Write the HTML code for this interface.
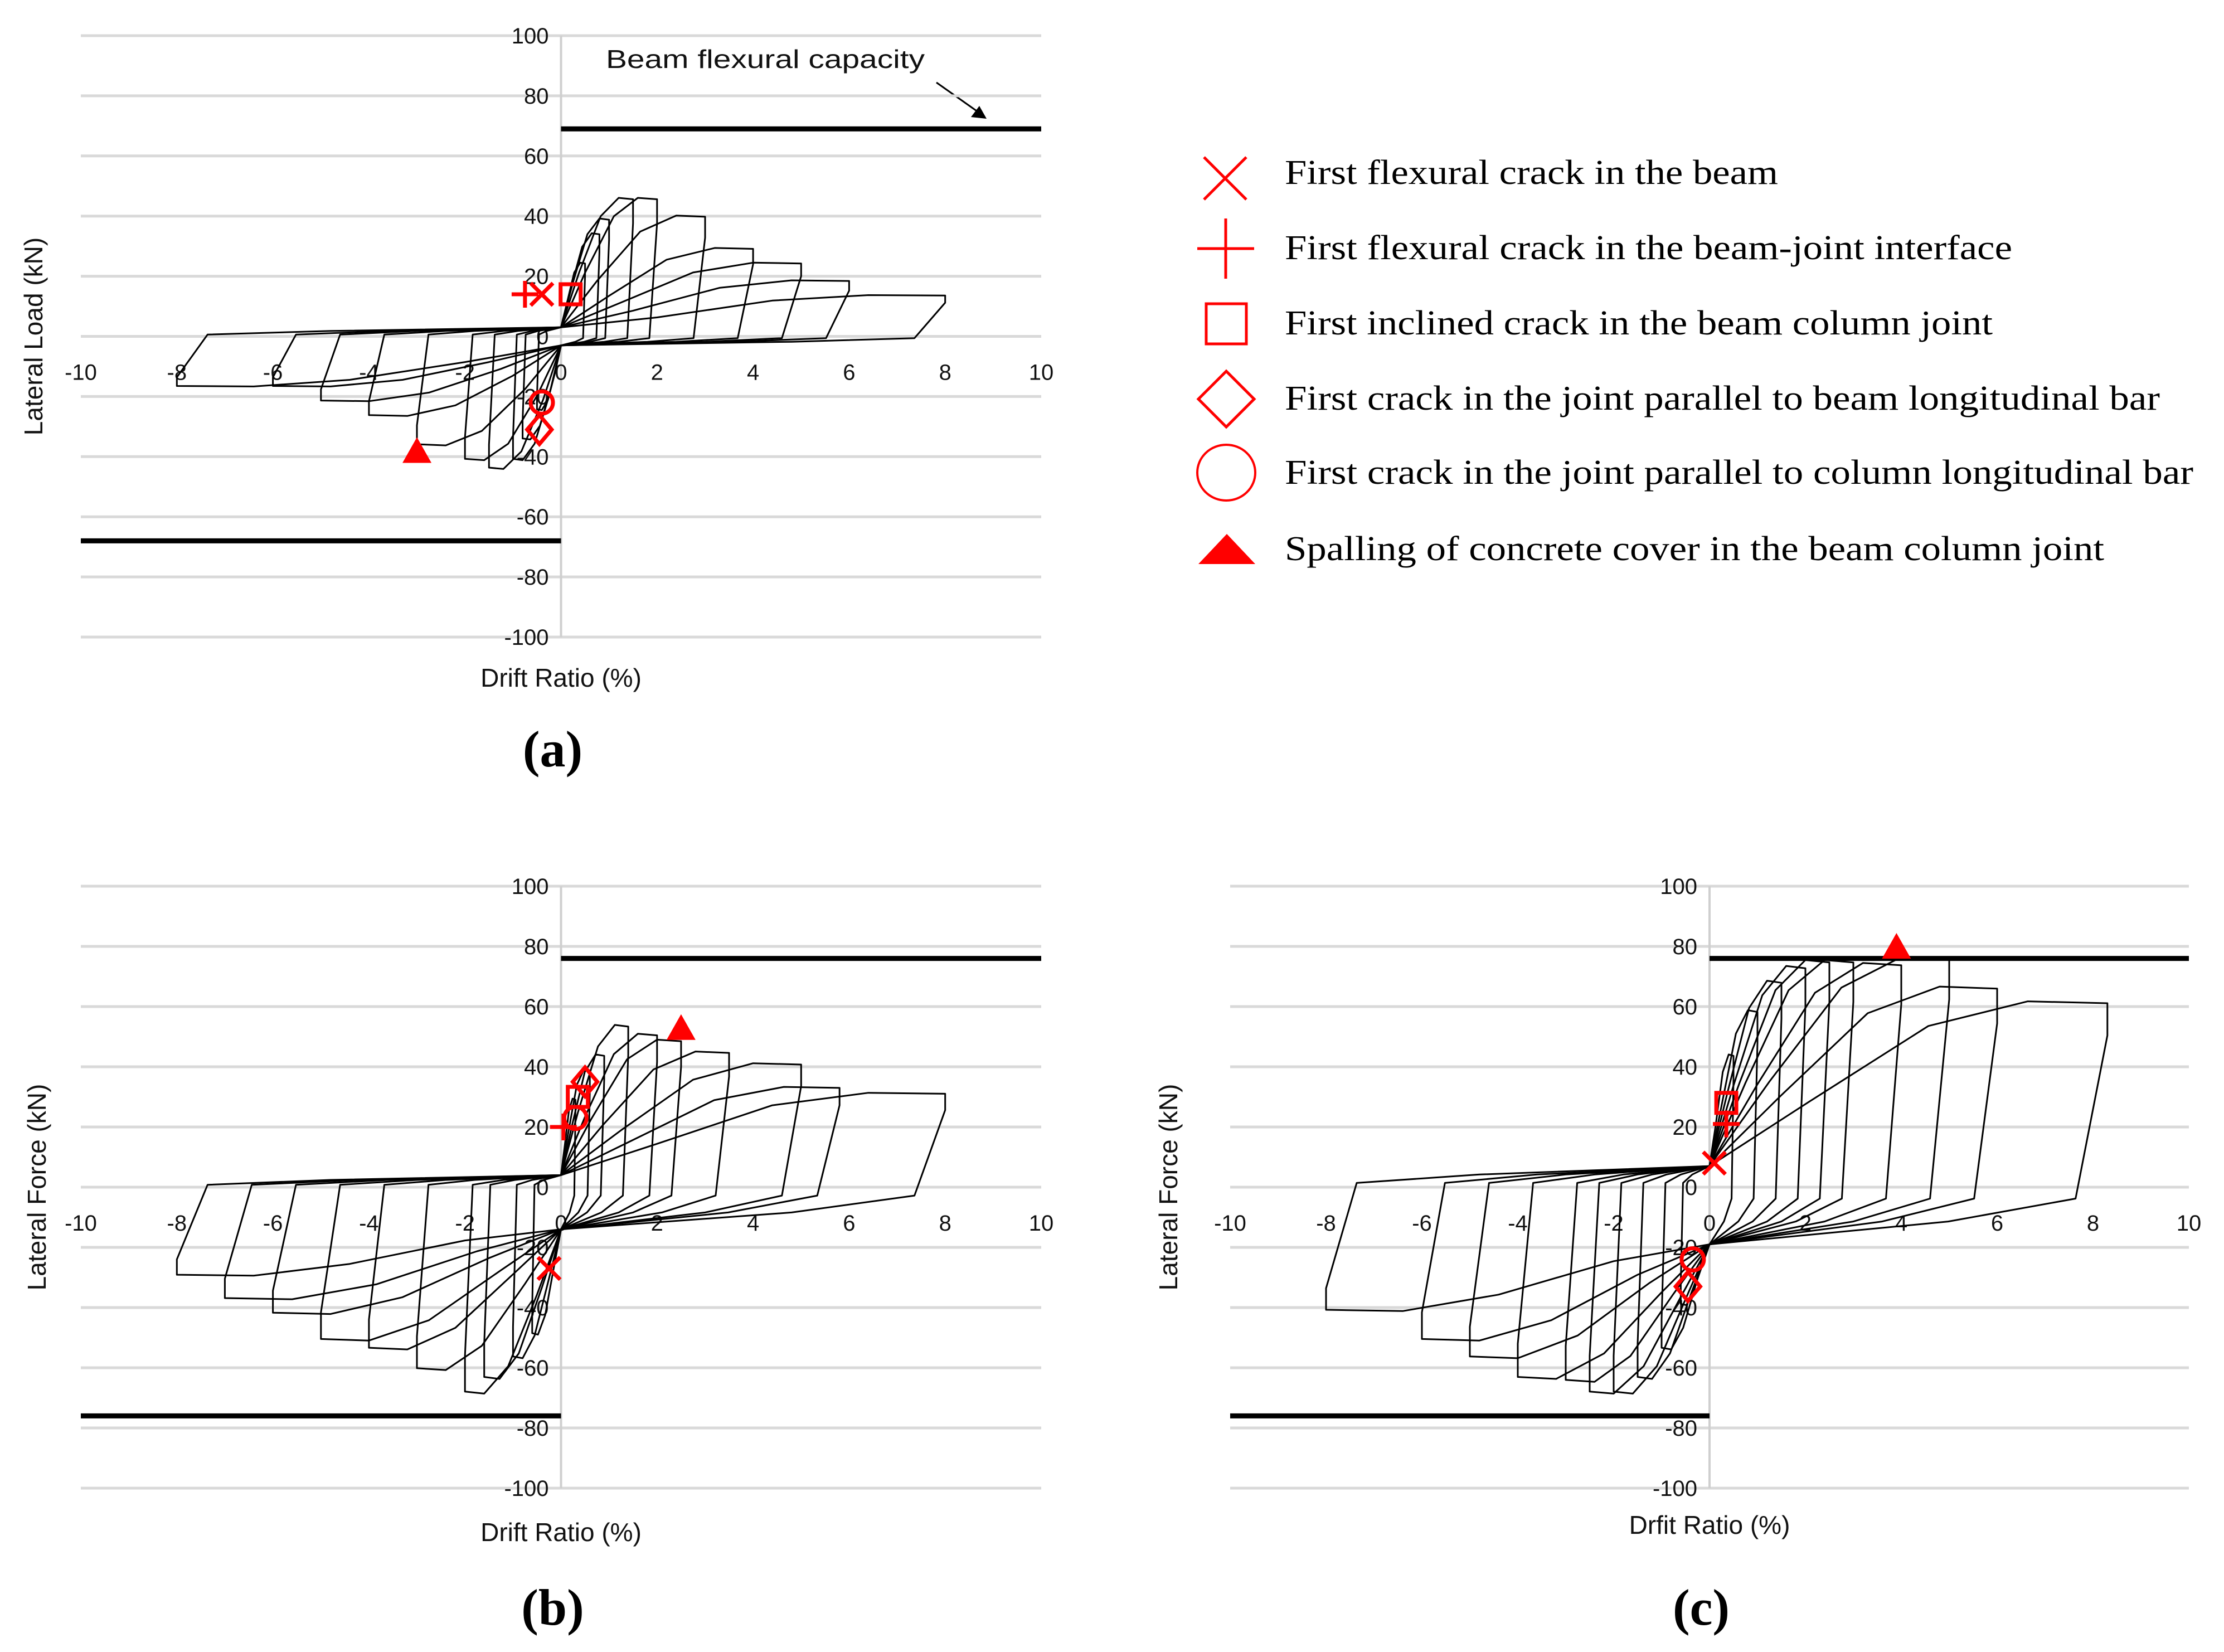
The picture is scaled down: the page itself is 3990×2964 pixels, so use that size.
<!DOCTYPE html>
<html><head><meta charset="utf-8">
<style>
html,body{margin:0;padding:0;background:#fff;}
svg{display:block;}
.tick{font-family:"Liberation Sans",sans-serif;font-size:40px;fill:#111;}
.title{font-family:"Liberation Sans",sans-serif;font-size:46px;fill:#111;}
.leg{font-family:"Liberation Serif",serif;font-size:62px;fill:#000;}
.plab{font-family:"Liberation Serif",serif;font-size:92px;font-weight:bold;fill:#000;}
</style></head>
<body>
<svg id="fig" width="3990" height="2964" viewBox="0 0 3990 2964" xmlns="http://www.w3.org/2000/svg">
<g>
  <g>
    <path d="M2160 282 L2236 358 M2236 282 L2160 358" stroke="#f00" stroke-width="5" fill="none"/>
    <text class="leg" x="2305" y="330" textLength="885" lengthAdjust="spacingAndGlyphs">First flexural crack in the beam</text>
  </g>
  <g>
    <path d="M2148 446 L2250 446 M2199 392 L2199 500" stroke="#f00" stroke-width="5" fill="none"/>
    <text class="leg" x="2305" y="465" textLength="1305" lengthAdjust="spacingAndGlyphs">First flexural crack in the beam-joint interface</text>
  </g>
  <g>
    <rect x="2164" y="545" width="72" height="72" stroke="#f00" stroke-width="5" fill="none"/>
    <text class="leg" x="2305" y="600" textLength="1270" lengthAdjust="spacingAndGlyphs">First inclined crack in the beam column joint</text>
  </g>
  <g>
    <path d="M2200 666 L2250 716 L2200 766 L2150 716 Z" stroke="#f00" stroke-width="5" fill="none"/>
    <text class="leg" x="2305" y="735" textLength="1570" lengthAdjust="spacingAndGlyphs">First crack in the joint parallel to beam longitudinal bar</text>
  </g>
  <ellipse cx="2200" cy="848" rx="52" ry="50" stroke="#f00" stroke-width="4" fill="none"/>
  <text class="leg" x="2305" y="868" textLength="1630" lengthAdjust="spacingAndGlyphs">First crack in the joint parallel to column longitudinal bar</text>
  <path d="M2150 1012 L2252 1012 L2201 958 Z" fill="#f00"/>
  <text class="leg" x="2305" y="1005" textLength="1470" lengthAdjust="spacingAndGlyphs">Spalling of concrete cover in the beam column joint</text>
</g>
<text class="title" x="1087" y="122" textLength="572" lengthAdjust="spacingAndGlyphs">Beam flexural capacity</text>
<path d="M1680 148 L1762 206" stroke="#000" stroke-width="3"/>
<path d="M1770 213 L1742 210 L1757 190 Z" fill="#000"/>
</svg>
<script>
// ---- Panel (a) data ----
const aPosDrift = [0.5, 0.8, 1.0, 1.5, 2.0, 3.0, 4.0, 5.0, 6.0, 8.0];
const aPosForce = [25, 35, 40, 47, 47, 41, 30, 25, 19, 14];
const aNegDrift = [-0.5, -0.8, -1.0, -1.5, -2.0, -3.0, -4.0, -5.0, -6.0, -8.0];
const aNegForce = [-25, -35, -42, -45, -42, -37, -27, -22, -17, -17];
const aCapacity = [69, -68];
// ---- Panel (b) data ----
const bPosDrift = [0.3, 0.6, 0.9, 1.4, 2.0, 2.5, 3.5, 5.0, 5.8, 8.0];
const bPosForce = [30, 40, 45, 55, 52, 50, 46, 42, 34, 32];
const bNegDrift = [-0.6, -1.0, -1.6, -2.0, -3.0, -4.0, -5.0, -6.0, -7.0, -8.0];
const bNegForce = [-50, -58, -65, -70, -62, -55, -52, -43, -38, -30];
const bCapacity = [76, -76];
// ---- Panel (c) data ----
const cPosDrift = [0.5, 1.0, 1.5, 2.0, 2.5, 3.0, 4.0, 5.0, 6.0, 8.3];
const cPosForce = [45, 60, 70, 75, 77, 77, 76, 78, 68, 63];
const cNegDrift = [-0.6, -1.0, -1.5, -2.0, -2.5, -3.0, -4.0, -5.0, -6.0, -8.0];
const cNegForce = [-40, -55, -65, -70, -70, -66, -65, -58, -52, -42];
const cCapacity = [76, -76];
// ---- Tick labels ----
const xTicks = [-10, -8, -6, -4, -2, 0, 2, 4, 6, 8, 10];
const yTicks = [100, 80, 60, 40, 20, 0, -20, -40, -60, -80, -100];
// ---- Markers: [type, drift, force] ----
const aMarkers = [['plus', -0.75, 14], ['x', -0.4, 14], ['square', 0.2, 14], ['circle', -0.4, -22], ['diamond', -0.45, -31], ['triangle', -3.0, -38]];
const bMarkers = [['plus', 0.05, 20], ['circle', 0.3, 23], ['square', 0.35, 30], ['diamond', 0.5, 35], ['x', -0.25, -27], ['triangle', 2.5, 53]];
const cMarkers = [['x', 0.1, 8], ['plus', 0.35, 21], ['square', 0.35, 28], ['circle', -0.35, -24], ['diamond', -0.45, -33], ['triangle', 3.9, 80]];

const NS = 'http://www.w3.org/2000/svg';
const fig = document.getElementById('fig');
function mk(tag, attrs, parent) {
  const e = document.createElementNS(NS, tag);
  for (const k in attrs) e.setAttribute(k, attrs[k]);
  parent.appendChild(e);
  return e;
}

const panels = [
  {id: 'a', x0: 145, x1: 1868, y0: 64, y1: 1143, pd: aPosDrift, pf: aPosForce, nd: aNegDrift, nf: aNegForce, cap: aCapacity, mk: aMarkers, up: 3, lo: -3, ytitle: 'Lateral Load (kN)', ytx: 76, xtitle: 'Drift Ratio (%)', xty: 1232, lab: '(a)', laby: 1375},
  {id: 'b', x0: 145, x1: 1868, y0: 1590, y1: 2670, pd: bPosDrift, pf: bPosForce, nd: bNegDrift, nf: bNegForce, cap: bCapacity, mk: bMarkers, up: 4, lo: -14, ytitle: 'Lateral Force (kN)', ytx: 82, xtitle: 'Drift Ratio (%)', xty: 2765, lab: '(b)', laby: 2915},
  {id: 'c', x0: 2207, x1: 3927, y0: 1590, y1: 2670, pd: cPosDrift, pf: cPosForce, nd: cNegDrift, nf: cNegForce, cap: cCapacity, mk: cMarkers, up: 7, lo: -19, ytitle: 'Lateral Force (kN)', ytx: 2112, xtitle: 'Drfit Ratio (%)', xty: 2752, lab: '(c)', laby: 2915}
];

panels.forEach(function (p) {
  const sx = function (d) { return p.x0 + (d + 10) / 20 * (p.x1 - p.x0); };
  const sy = function (f) { return p.y1 - (f + 100) / 200 * (p.y1 - p.y0); };
  const g = mk('g', {}, fig);
  
  
  yTicks.forEach(function (t) {
    const l = mk('line', {x1: p.x0, x2: p.x1, y1: sy(t), y2: sy(t), stroke: '#d9d9d9', 'stroke-width': 5}, g);
    
    
  });
  const ya = mk('line', {x1: sx(0), x2: sx(0), y1: sy(100), y2: sy(-100), stroke: '#cfcfcf', 'stroke-width': 4}, g);
  
  
  yTicks.forEach(function (t) {
    const tx = mk('text', {x: sx(0) - 22, y: sy(t) + 14, 'text-anchor': 'end', class: 'tick'}, g);
    tx.textContent = t;
    
    
  });
  xTicks.forEach(function (t) {
    const tx = mk('text', {x: sx(t), y: sy(0) + 78, 'text-anchor': 'middle', class: 'tick'}, g);
    tx.textContent = t;
    
    
  });
  const c1 = mk('line', {x1: sx(0), x2: p.x1, y1: sy(p.cap[0]), y2: sy(p.cap[0]), stroke: '#000', 'stroke-width': 9}, g);
  
  
  const c2 = mk('line', {x1: p.x0, x2: sx(0), y1: sy(p.cap[1]), y2: sy(p.cap[1]), stroke: '#000', 'stroke-width': 9}, g);
  
  
  for (let i = 0; i < p.pd.length; i++) {
    const pd = p.pd[i], pf = p.pf[i], nd = p.nd[i], nf = p.nf[i];
    const pts = [
      [0, p.up], [pd * 0.25, pf * 0.45], [pd * 0.55, pf * 0.85], [pd * 0.8, pf * 0.98], [pd, pf * 0.97], [pd, pf * 0.8],
      [pd * 0.92, p.lo * 0.2], [pd * 0.6, p.lo * 0.6], [0, p.lo],
      [nd * 0.25, nf * 0.45 + p.lo * 0.3], [nd * 0.55, nf * 0.85], [nd * 0.8, nf * 0.98], [nd, nf * 0.97], [nd, nf * 0.8],
      [nd * 0.92, p.up * 0.2], [nd * 0.6, p.up * 0.6], [0, p.up]
    ];
    const d = pts.map(function (q, k) { return (k ? 'L' : 'M') + sx(q[0]).toFixed(1) + ' ' + sy(q[1]).toFixed(1); }).join(' ');
    const path = mk('path', {d: d, fill: 'none', stroke: '#000', 'stroke-width': 3, 'stroke-linejoin': 'round'}, g);
    
    
  }
  p.mk.forEach(function (m) {
    const x = sx(m[1]), y = sy(m[2]);
    let e;
    const st = {stroke: '#f00', 'stroke-width': 7, fill: 'none'};
    if (m[0] === 'x') { st.d = 'M' + (x - 20) + ' ' + (y - 20) + 'L' + (x + 20) + ' ' + (y + 20) + 'M' + (x + 20) + ' ' + (y - 20) + 'L' + (x - 20) + ' ' + (y + 20); e = mk('path', st, g); }
    else if (m[0] === 'plus') { st.d = 'M' + (x - 24) + ' ' + y + 'L' + (x + 24) + ' ' + y + 'M' + x + ' ' + (y - 24) + 'L' + x + ' ' + (y + 24); e = mk('path', st, g); }
    else if (m[0] === 'square') { st.x = x - 18; st.y = y - 18; st.width = 36; st.height = 36; e = mk('rect', st, g); }
    else if (m[0] === 'diamond') { st.d = 'M' + x + ' ' + (y - 26) + 'L' + (x + 22) + ' ' + y + 'L' + x + ' ' + (y + 26) + 'L' + (x - 22) + ' ' + y + 'Z'; e = mk('path', st, g); }
    else if (m[0] === 'circle') { st.cx = x; st.cy = y; st.r = 20; e = mk('circle', st, g); }
    else { e = mk('path', {d: 'M' + (x - 26) + ' ' + (y + 22) + 'L' + (x + 26) + ' ' + (y + 22) + 'L' + x + ' ' + (y - 24) + 'Z', fill: '#f00'}, g); }
    
    
  });
  const yt = mk('text', {x: 0, y: 0, 'text-anchor': 'middle', class: 'title', transform: 'translate(' + p.ytx + ',' + sy(0) + ') rotate(-90)'}, g);
  yt.textContent = p.ytitle;
  
  
  const xt = mk('text', {x: sx(0), y: p.xty, 'text-anchor': 'middle', class: 'title'}, g);
  xt.textContent = p.xtitle;
  
  
  const lb = mk('text', {x: sx(0) - 15, y: p.laby, 'text-anchor': 'middle', class: 'plab'}, g);
  lb.textContent = p.lab;
  
  
});
</script>
</body></html>
